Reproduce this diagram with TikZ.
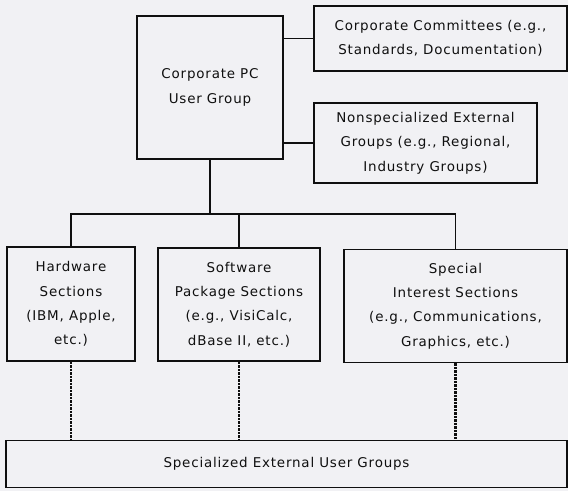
\documentclass[tikz,border=0pt]{standalone}
\usepackage{fontspec}
\setmainfont{DejaVu Sans}[LetterSpace=6]
\definecolor{paper}{RGB}{241,241,244}
\definecolor{ink}{RGB}{15,15,15}
\tikzset{
  box/.style={draw=ink, line width=1.8bp, rectangle, inner sep=0pt, align=center,
    text=ink, font={\fontsize{13.5}{24.5}\selectfont}},
  link/.style={draw=ink, line width=1.3bp},
  dotlink/.style={draw=ink, line width=2.8bp, dash pattern=on 2.2bp off 1.3bp}
}
\begin{document}
\begin{tikzpicture}[x=1bp,y=-1bp]
\fill[paper] (0,0) rectangle (568,491);
\useasboundingbox (0,0) rectangle (568,491);

\node[box, minimum width=146bp, minimum height=143bp] (cpc) at (210,87.5)
  {Corporate PC\\User Group};
\node[box, minimum width=253bp, minimum height=65bp] (com) at (440.5,38.5)
  {Corporate Committees (e.g.,\\Standards, Documentation)};
\node[box, minimum width=223bp, minimum height=80bp] (non) at (425.5,143)
  {Nonspecialized External\\Groups (e.g., Regional,\\Industry Groups)};

\node[box, minimum width=128bp, minimum height=114bp] (hw) at (71,304)
  {Hardware\\Sections\\(IBM, Apple,\\etc.)};
\node[box, minimum width=162bp, minimum height=113bp] (sw) at (239,304.5)
  {Software\\Package Sections\\(e.g., VisiCalc,\\dBase II, etc.)};
\node[box, minimum width=223bp, minimum height=113bp] (si) at (455.5,306)
  {Special\\Interest Sections\\(e.g., Communications,\\Graphics, etc.)};

\node[box, minimum width=561bp, minimum height=47bp] (seg) at (286.5,464)
  {Specialized External User Groups};

\coordinate (bus) at (210,214);

\draw[link] (cpc.east |- com.west) -- (com.west);
\draw[link] (cpc.east |- non.west) -- (non.west);
\draw[link] (cpc.south) -- (cpc.south |- bus);
\draw[link] (hw.north) -- (hw.north |- bus) -| (si.north);
\draw[link] (sw.north) -- (sw.north |- bus);

\draw[dotlink] (hw.south) -- (hw.south |- seg.north);
\draw[dotlink] (sw.south) -- (sw.south |- seg.north);
\draw[dotlink] (si.south) -- (si.south |- seg.north);
\end{tikzpicture}
\end{document}
